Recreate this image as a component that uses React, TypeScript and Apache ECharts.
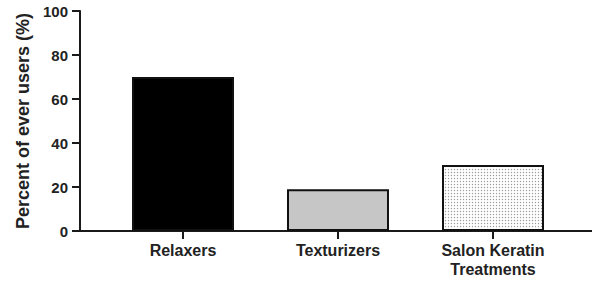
import React, { useEffect, useRef } from "react";
import * as echarts from "echarts";

const categories = ["Relaxers", "Texturizers", "Salon Keratin\nTreatments"];
const values = [70, 19, 30];
const yTicks = [0, 20, 40, 60, 80, 100];

export default function App() {
  const ref = useRef<HTMLDivElement>(null);
  useEffect(() => {
    if (!ref.current) return;
    const chart = echarts.init(ref.current, null, { renderer: "svg" });
    const axisColor = "#1a1a1a";
    const font = "Liberation Sans, Arial, sans-serif";
    chart.setOption({
      animation: false,
      backgroundColor: "#ffffff",
      grid: [
        { left: 80, right: 0, top: 11, bottom: 53 },
        { left: 105.5, width: 465, top: 11, bottom: 53 },
      ],
      xAxis: [
        {
          gridIndex: 0,
          type: "value",
          min: 0,
          max: 1,
          axisLine: { show: true, lineStyle: { color: axisColor, width: 2 } },
          axisTick: { show: false },
          axisLabel: { show: false },
          splitLine: { show: false },
        },
        {
          gridIndex: 1,
          type: "category",
          data: categories,
          axisLine: { show: false },
          axisTick: { show: true, alignWithLabel: true, length: 8, lineStyle: { color: axisColor, width: 2 } },
          axisLabel: {
            margin: 10,
            color: "#222",
            fontFamily: font,
            fontWeight: "bold",
            fontSize: 16,
            lineHeight: 19,
          },
        },
      ],
      yAxis: [
        {
          gridIndex: 0,
          type: "value",
          min: yTicks[0],
          max: yTicks[yTicks.length - 1],
          interval: 20,
          name: "Percent of ever users (%)",
          nameLocation: "middle",
          nameGap: 46,
          nameTextStyle: { color: "#222", fontFamily: font, fontWeight: "bold", fontSize: 18 },
          axisLine: { show: true, lineStyle: { color: axisColor, width: 2 } },
          axisTick: { show: true, length: 8, lineStyle: { color: axisColor, width: 2 } },
          axisLabel: { margin: 12, color: "#222", fontFamily: font, fontWeight: "bold", fontSize: 15 },
          splitLine: { show: false },
        },
        {
          gridIndex: 1,
          type: "value",
          min: yTicks[0],
          max: yTicks[yTicks.length - 1],
          interval: 20,
          show: false,
          splitLine: { show: false },
        },
      ],
      series: [
        {
          type: "bar",
          xAxisIndex: 1,
          yAxisIndex: 1,
          barWidth: 102,
          z: 1,
          data: values.map((v, i) => {
            if (i === 0) return { value: v, itemStyle: { color: "#000", borderColor: "#111", borderWidth: 2 } };
            if (i === 1) return { value: v, itemStyle: { color: "#c6c6c6", borderColor: "#111", borderWidth: 2 } };
            return {
              value: v,
              itemStyle: {
                color: "#ffffff",
                borderColor: "#111",
                borderWidth: 2,
                decal: {
                  symbol: "circle",
                  symbolSize: 0.45,
                  color: "#9a9a9a",
                  backgroundColor: "#ffffff",
                  dashArrayX: [3, 0],
                  dashArrayY: [3, 0],
                  rotation: 0,
                },
              },
            };
          }),
        },
      ],
    });
    return () => chart.dispose();
  }, []);
  return (
    <div
      ref={ref}
      style={{ position: "fixed", left: 0, top: 0, width: 592, height: 284 }}
    />
  );
}
